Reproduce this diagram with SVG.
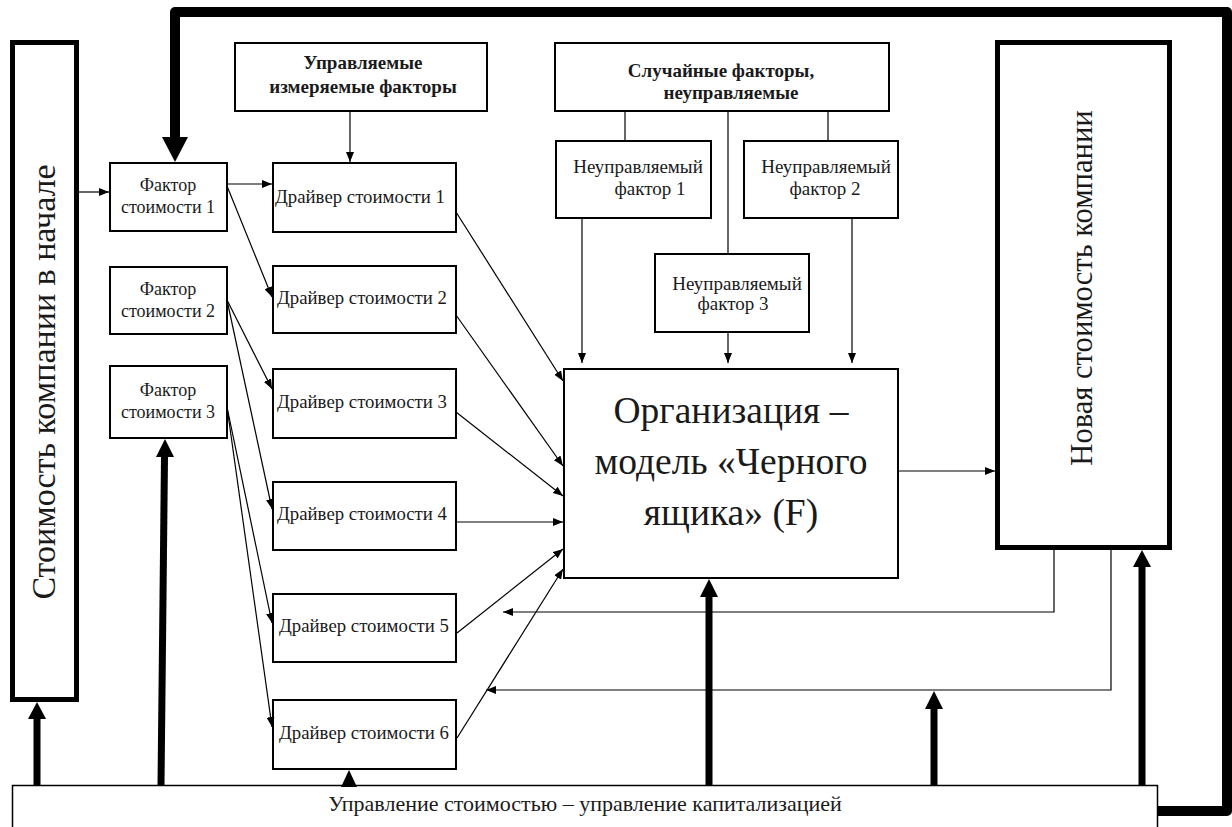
<svg xmlns="http://www.w3.org/2000/svg" width="1232" height="827" viewBox="0 0 1232 827">
<style>
.box{fill:#fff;stroke:#000;stroke-width:2}
.big{fill:#fff;stroke:#000;stroke-width:5}
.t{font-family:"Liberation Serif","Times New Roman",serif;font-size:18px;fill:#1a1a1a}
.d{font-size:18.8px}
.n{font-size:19px}
.b{font-weight:bold;font-size:19px}
.c{stroke:#000;stroke-width:1.2;fill:none}
.k{stroke:#000;stroke-width:7;fill:none}
.h{fill:#000}
</style>
<defs>
<marker id="a" markerUnits="userSpaceOnUse" markerWidth="10" markerHeight="8" refX="10" refY="4" orient="auto"><path d="M0,0 L10,4 L0,8 z" fill="#000"/></marker>
</defs>
<rect width="1232" height="827" fill="#fff"/>

<g id="start">
<rect class="big" x="12.5" y="42.5" width="64" height="657"/>
<text class="t" style="font-size:34px" text-anchor="middle" transform="translate(55,382) rotate(-90)">Стоимость компании в начале</text>
</g>

<g id="newvalue">
<rect class="big" x="997.5" y="42.5" width="172" height="505"/>
<text class="t" style="font-size:30.6px" text-anchor="middle" transform="translate(1092,288) rotate(-90)">Новая стоимость компании</text>
</g>

<g id="controlled">
<rect class="box" x="235" y="43" width="252" height="68"/>
<text class="t b" text-anchor="middle" x="363" y="69">Управляемые</text>
<text class="t b" text-anchor="middle" x="363" y="93">измеряемые факторы</text>
</g>

<g id="random">
<rect class="box" x="555" y="43" width="334" height="68"/>
<text class="t b" text-anchor="middle" x="721" y="77">Случайные факторы,</text>
<text class="t b" text-anchor="middle" x="731" y="99">неуправляемые</text>
</g>

<g id="nf1">
<rect class="box" x="556" y="141" width="155" height="77"/>
<text class="t n" text-anchor="middle" x="638" y="173">Неуправляемый</text>
<text class="t n" text-anchor="middle" x="650" y="195">фактор  1</text>
</g>
<g id="nf2">
<rect class="box" x="744" y="141" width="154" height="77"/>
<text class="t n" text-anchor="middle" x="826" y="173">Неуправляемый</text>
<text class="t n" text-anchor="middle" x="825" y="195">фактор  2</text>
</g>
<g id="nf3">
<rect class="box" x="655" y="254" width="154" height="78"/>
<text class="t n" text-anchor="middle" x="737" y="290">Неуправляемый</text>
<text class="t n" text-anchor="middle" x="733" y="310">фактор  3</text>
</g>

<g id="f1">
<rect class="box" x="110" y="163" width="117" height="68"/>
<text class="t" text-anchor="middle" x="168" y="191">Фактор</text>
<text class="t" text-anchor="middle" x="168" y="213">стоимости 1</text>
</g>
<g id="f2">
<rect class="box" x="110" y="267" width="117" height="67"/>
<text class="t" text-anchor="middle" x="168" y="295">Фактор</text>
<text class="t" text-anchor="middle" x="168" y="317">стоимости 2</text>
</g>
<g id="f3">
<rect class="box" x="110" y="366" width="117" height="72"/>
<text class="t" text-anchor="middle" x="168" y="396">Фактор</text>
<text class="t" text-anchor="middle" x="168" y="418">стоимости 3</text>
</g>

<g id="d1"><rect class="box" x="273" y="163" width="183" height="69"/><text class="t d" text-anchor="middle" x="360" y="203">Драйвер стоимости 1</text></g>
<g id="d2"><rect class="box" x="273" y="266" width="183" height="67"/><text class="t d" text-anchor="middle" x="362" y="304">Драйвер стоимости 2</text></g>
<g id="d3"><rect class="box" x="273" y="369" width="183" height="69"/><text class="t d" text-anchor="middle" x="362" y="408">Драйвер стоимости 3</text></g>
<g id="d4"><rect class="box" x="273" y="482" width="183" height="68"/><text class="t d" text-anchor="middle" x="362" y="520">Драйвер стоимости 4</text></g>
<g id="d5"><rect class="box" x="273" y="594" width="183" height="68"/><text class="t d" text-anchor="middle" x="364" y="632">Драйвер стоимости 5</text></g>
<g id="d6"><rect class="box" x="273" y="700" width="183" height="69"/><text class="t d" text-anchor="middle" x="364" y="739">Драйвер стоимости 6</text></g>

<g id="blackbox">
<rect class="box" x="564" y="369" width="334" height="209"/>
<text class="t" style="font-size:37.5px" text-anchor="middle" x="731" y="423">Организация –</text>
<text class="t" style="font-size:37.5px" text-anchor="middle" x="731" y="474">модель «Черного</text>
<text class="t" style="font-size:37.5px" text-anchor="middle" x="731" y="525">ящика» (F)</text>
</g>

<g id="management">
<rect x="12.5" y="785.5" width="1145" height="60" fill="#fff" stroke="#000" stroke-width="1.5"/>
<text class="t" style="font-size:22px" text-anchor="middle" x="585" y="811">Управление стоимостью – управление капитализацией</text>
</g>

<g id="connectors">
<line class="c" x1="79" y1="192" x2="109" y2="192" marker-end="url(#a)"/>
<line class="c" x1="227" y1="184" x2="272" y2="184" marker-end="url(#a)"/>
<line class="c" x1="350" y1="112" x2="350" y2="162" marker-end="url(#a)"/>
<line class="c" x1="227" y1="186" x2="272" y2="297" marker-end="url(#a)"/>
<line class="c" x1="227" y1="300" x2="272" y2="389" marker-end="url(#a)"/>
<line class="c" x1="227" y1="300" x2="272" y2="509" marker-end="url(#a)"/>
<line class="c" x1="227" y1="407" x2="272" y2="623" marker-end="url(#a)"/>
<line class="c" x1="227" y1="407" x2="272" y2="727" marker-end="url(#a)"/>
<line class="c" x1="456" y1="212" x2="563" y2="381" marker-end="url(#a)"/>
<line class="c" x1="456" y1="315" x2="563" y2="466" marker-end="url(#a)"/>
<line class="c" x1="456" y1="412" x2="563" y2="496" marker-end="url(#a)"/>
<line class="c" x1="456" y1="522" x2="563" y2="522" marker-end="url(#a)"/>
<line class="c" x1="457" y1="633" x2="563" y2="549" marker-end="url(#a)"/>
<line class="c" x1="457" y1="738" x2="563" y2="569" marker-end="url(#a)"/>
<line class="c" x1="625" y1="112" x2="625" y2="141"/>
<line class="c" x1="728" y1="112" x2="728" y2="254"/>
<line class="c" x1="828" y1="112" x2="828" y2="141"/>
<line class="c" x1="582" y1="218" x2="582" y2="363" marker-end="url(#a)"/>
<line class="c" x1="728" y1="332" x2="728" y2="363" marker-end="url(#a)"/>
<line class="c" x1="852" y1="218" x2="852" y2="363" marker-end="url(#a)"/>
<line class="c" x1="898" y1="471" x2="995" y2="471" marker-end="url(#a)"/>
<polyline class="c" points="1054,550 1054,612 503,612" marker-end="url(#a)"/>
<polyline class="c" points="1111,550 1111,690 486,690" marker-end="url(#a)"/>
<path d="M1157,811 H1227 V12 H175 V137" fill="none" stroke="#000" stroke-width="10" stroke-linejoin="round"/>
<polygon class="h" points="162,137 188,137 175,162"/>
<line class="k" x1="37" y1="785" x2="37" y2="719"/>
<polygon class="h" points="28,719 46,719 37,702"/>
<line class="k" x1="161" y1="785" x2="164.5" y2="457"/>
<polygon class="h" points="156,457 174,457 165,439"/>
<polygon class="h" points="341,787 357,787 349,770"/>
<line class="k" x1="709" y1="785" x2="709" y2="596"/>
<polygon class="h" points="700,597 718,597 709,579"/>
<line class="k" x1="934" y1="785" x2="934" y2="708"/>
<polygon class="h" points="925,709 943,709 934,691"/>
<line class="k" x1="1142" y1="785" x2="1142" y2="566"/>
<polygon class="h" points="1133,567 1151,567 1142,550"/>
</g>
</svg>
